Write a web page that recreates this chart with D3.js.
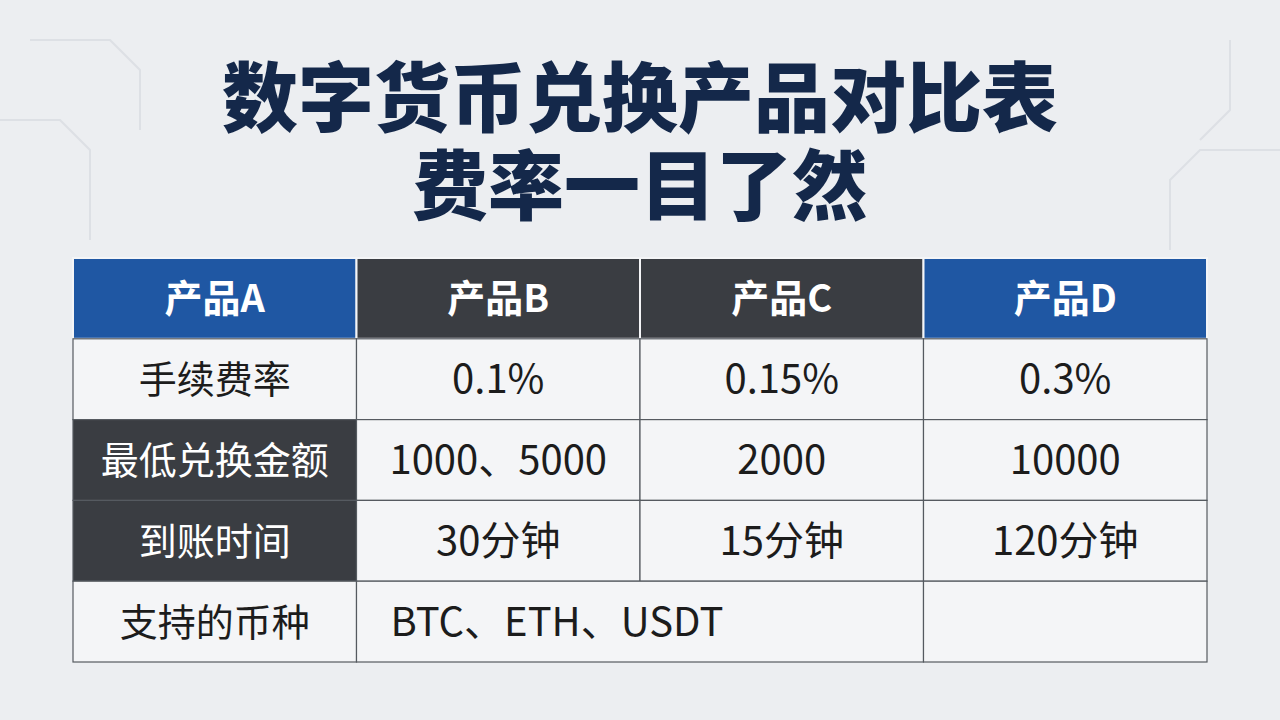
<!DOCTYPE html>
<html><head><meta charset="utf-8">
<script src="https://cdn.jsdelivr.net/npm/d3@7"></script>
<style>body{margin:0;background:#eceef1;}svg{display:block;}</style>
</head><body><div id="chart"></div>
<script>
var titleLines = ["数字货币兑换产品对比表", "费率一目了然"];
var products = ["产品A", "产品B", "产品C", "产品D"];
var rowLabels = ["手续费率", "最低兑换金额", "到账时间", "支持的币种"];
var feeRate = ["0.1%", "0.15%", "0.3%"];
var minAmount = ["1000、5000", "2000", "10000"];
var arrival = ["30分钟", "15分钟", "120分钟"];
var coins = ["BTC、ETH、USDT"];
var headColors = ["#1f57a3", "#3a3d42", "#3a3d42", "#1f57a3"];
var labelDark = [false, true, true, false];

var W = 1280, H = 720;
var svg = d3.select('#chart').append('svg').attr('width', W).attr('height', H);
svg.append('rect').attr('width', W).attr('height', H).attr('fill', '#eceef1');

// faint circuit lines
var bg = svg.append('g').attr('stroke', '#dde0e5').attr('fill', 'none').attr('stroke-width', 2);
[[0,120,60,120,90,150,90,240],[1280,150,1200,150,1170,180,1170,250],[1230,40,1230,110,1200,140],[30,40,110,40,140,70,140,130]].forEach(function(p){
	var pts = d3.range(0, p.length, 2).map(function(i){ return [p[i], p[i+1]]; });
	bg.append('path').attr('d', d3.line()(pts));
});

svg.selectAll('.title').data(titleLines).enter().append('text')
	.attr('x', 640).attr('y', function(d, i){ return 126 + i * 88; })
	.attr('text-anchor', 'middle')
	.attr('font-family', 'Noto Sans CJK SC').attr('font-weight', 900)
	.attr('font-size', 76).attr('fill', '#14284a')
	.text(function(d){ return d; });

var x = d3.scaleBand().domain(d3.range(4)).range([73, 1207]);
var y = d3.scaleBand().domain(d3.range(5)).range([258, 662]);
var font = 'Noto Sans CJK SC';

var g = svg.append('g');
// header
products.forEach(function(p, i){
	g.append('rect').attr('x', x(i)).attr('y', y(0)).attr('width', x.bandwidth()).attr('height', y.bandwidth())
		.attr('fill', headColors[i]).attr('stroke', '#f4f5f7').attr('stroke-width', 2);
	g.append('text').attr('x', x(i) + x.bandwidth() / 2).attr('y', y(0) + y.bandwidth() / 2 + 14)
		.attr('text-anchor', 'middle').attr('font-family', font).attr('font-weight', 700)
		.attr('font-size', 38).attr('fill', '#fff').text(p);
});

var rows = [feeRate, minAmount, arrival];
rowLabels.forEach(function(lab, r){
	var yy = y(r + 1);
	g.append('rect').attr('x', x(0)).attr('y', yy).attr('width', x.bandwidth()).attr('height', y.bandwidth())
		.attr('fill', labelDark[r] ? '#3a3d42' : '#f4f5f7').attr('stroke', '#555a60').attr('stroke-width', 1.2);
	g.append('text').attr('x', x(0) + x.bandwidth() / 2).attr('y', yy + y.bandwidth() / 2 + 14)
		.attr('text-anchor', 'middle').attr('font-family', font).attr('font-size', 38)
		.attr('fill', labelDark[r] ? '#fff' : '#1c1c1c').text(lab);
	if (r < 3) {
		rows[r].forEach(function(v, c){
			g.append('rect').attr('x', x(c + 1)).attr('y', yy).attr('width', x.bandwidth()).attr('height', y.bandwidth())
				.attr('fill', '#f4f5f7').attr('stroke', '#555a60').attr('stroke-width', 1.2);
			g.append('text').attr('x', x(c + 1) + x.bandwidth() / 2).attr('y', yy + y.bandwidth() / 2 + 14)
				.attr('text-anchor', 'middle').attr('font-family', font).attr('font-size', 40)
				.attr('fill', '#1c1c1c').text(v);
		});
	} else {
		g.append('rect').attr('x', x(1)).attr('y', yy).attr('width', x.bandwidth() * 2).attr('height', y.bandwidth())
			.attr('fill', '#f4f5f7').attr('stroke', '#555a60').attr('stroke-width', 1.2);
		g.append('rect').attr('x', x(3)).attr('y', yy).attr('width', x.bandwidth()).attr('height', y.bandwidth())
			.attr('fill', '#f4f5f7').attr('stroke', '#555a60').attr('stroke-width', 1.2);
		g.append('text').attr('x', x(1) + 34).attr('y', yy + y.bandwidth() / 2 + 14)
			.attr('font-family', font).attr('font-size', 40).attr('fill', '#1c1c1c').text(coins[0]);
	}
});
</script></body></html>
